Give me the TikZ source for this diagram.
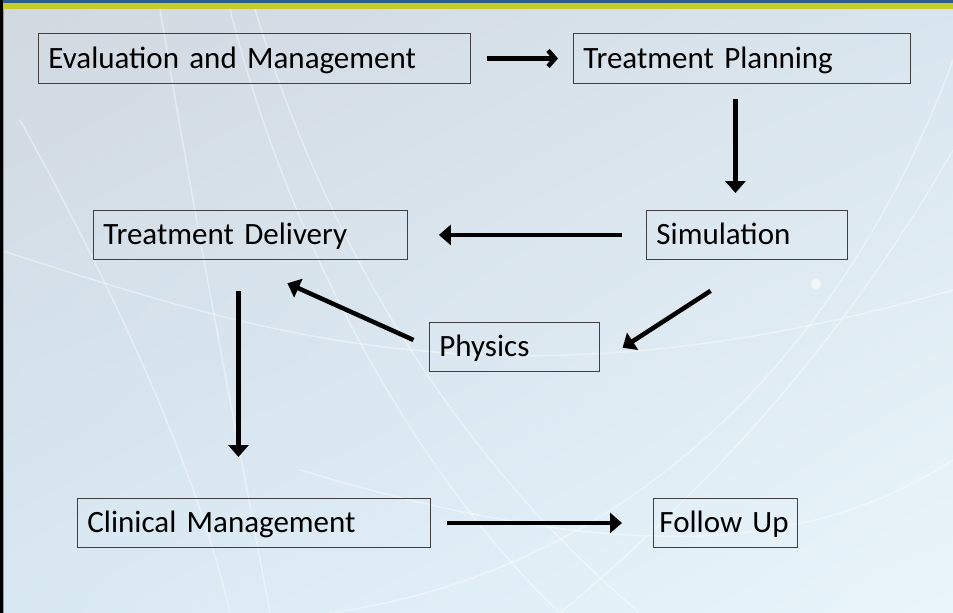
\documentclass[tikz,border=0pt]{standalone}
\usepackage{fontspec}
\setmainfont{Carlito}
\usepackage{tikz}
\usetikzlibrary{positioning}
\usetikzlibrary{arrows.meta}
\usetikzlibrary{shadings}

\definecolor{bgUL}{HTML}{D1D8E0}
\definecolor{bgUR}{HTML}{D9E5EE}
\definecolor{bgLL}{HTML}{D8E8F3}
\definecolor{bgLR}{HTML}{EAF5FB}
\definecolor{bandblue}{HTML}{2B5C8C}
\definecolor{bandgreen}{HTML}{C4CC2C}

\begin{document}
\begin{tikzpicture}[x=1pt, y=-1pt,
	box/.style={draw=black!75, line width=0.9pt, anchor=north west, inner xsep=10pt,
		inner ysep=0pt, text height=20pt, text depth=0pt, align=left, minimum height=50pt,
		font=\fontsize{31}{37}\selectfont},
	flow/.style={-{Triangle[length=12pt,width=20pt]}, line width=4.5pt},
	barb/.style={-{Straight Barb[length=7pt,width=16pt]}, line width=4.5pt},
	swirl/.style={white, opacity=0.4, line width=1.5pt}]
		\useasboundingbox (0,0) rectangle (953,613);
		% background
		\shade[upper left=bgUL, upper right=bgUR, lower left=bgLL, lower right=bgLR] (0,0) rectangle (953,613);
		\draw[swirl] (230,9) .. controls (290,250) and (420,480) .. (560,613);
		\draw[swirl] (255,9) .. controls (330,260) and (470,470) .. (640,613);
		\draw[swirl] (160,9) .. controls (200,250) and (240,450) .. (270,613);
		\draw[swirl] (20,120) .. controls (120,300) and (200,480) .. (230,613);
		\draw[swirl] (0,250) .. controls (250,330) and (500,420) .. (953,290);
		\draw[swirl] (953,150) .. controls (850,330) and (720,480) .. (560,613);
		\draw[swirl] (953,60) .. controls (880,260) and (700,560) .. (330,613);
		\draw[swirl] (300,470) .. controls (600,560) and (800,560) .. (953,460);
		\fill[white, opacity=0.6] (816,284) circle (5);
		% top bands and left edge
		\fill[bandblue] (0,0) rectangle (953,3);
		\fill[bandgreen] (0,3) rectangle (953,9);
		\fill[black] (0,0) rectangle (2.5,613);
		\fill[black!40] (2.5,9) rectangle (4,613);
		% boxes
		\node[box, text width=412pt] (Eval) at (38,33) {Evaluation and Management};
		\node[box, text width=317pt] (Plan) at (573,33) {Treatment Planning};
		\node[box, text width=181pt, minimum height=49pt] (Sim) at (646,210) {Simulation};
		\node[box, text width=294pt, minimum height=49pt] (Deliv) at (93,210) {Treatment Delivery};
		\node[box, text width=150pt, minimum height=49pt] (Phys) at (429,322) {Physics};
		\node[box, text width=333pt, minimum height=49pt] (Clin) at (77,498) {Clinical Management};
		\node[box, inner xsep=6pt, text width=132pt, minimum height=49pt] (Follow) at (653,498) {Follow Up};
		% arrows
		\draw[barb, shorten <=16pt, shorten >=15pt] (Eval.east) -- (Plan.west);
		\draw[flow, shorten <=15pt, shorten >=17pt] ([xshift=-6.5pt]Plan.south) -- ([xshift=-11.5pt]Sim.north);
		\draw[flow, shorten <=24pt, shorten >=31pt] (Sim.west) -- (Deliv.east);
		\draw[flow, shorten <=57pt, shorten >=27pt] ([xshift=11.5pt]Sim.south) -- ([yshift=-15.5pt]Phys.east);
		\draw[flow, shorten <=17pt, shorten >=57pt] (Phys.west) -- ([xshift=-15pt]Deliv.south);
		\draw[flow, shorten <=31pt, shorten >=41pt] ([xshift=-12pt]Deliv.south) -- ([xshift=-15.5pt]Clin.north);
		\draw[flow, shorten <=16pt, shorten >=31pt] (Clin.east) -- (Follow.west);
	\end{tikzpicture}
\end{document}
